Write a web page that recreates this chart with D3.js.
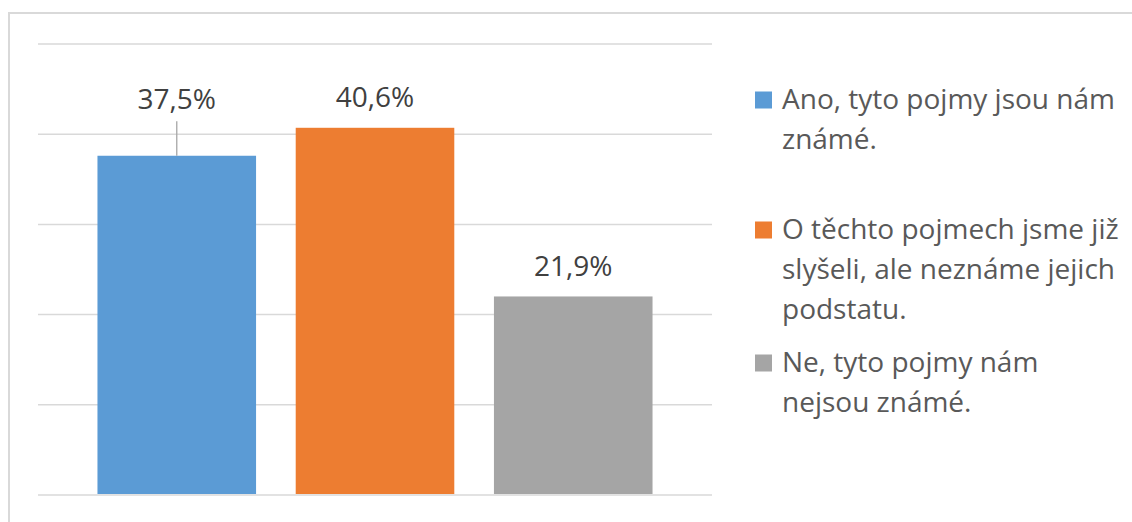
<!DOCTYPE html>
<html>
<head>
<meta charset="utf-8">
<script src="https://cdn.jsdelivr.net/npm/d3@7"></script>
<style>
  html, body { margin: 0; padding: 0; background: #fff; }
  svg { display: block; font-family: "Open Sans", sans-serif; }
</style>
</head>
<body>
<svg id="chart" width="1132" height="522"></svg>
<script>
// ---- data ----
const seriesNames = [
  "Ano, tyto pojmy jsou nám známé.",
  "O těchto pojmech jsme již slyšeli, ale neznáme jejich podstatu.",
  "Ne, tyto pojmy nám nejsou známé."
];
const seriesValues = [37.5, 40.6, 21.9];
const seriesColors = ["#5b9bd5", "#ed7d31", "#a5a5a5"];
const legendLines = [
  ["Ano, tyto pojmy jsou nám", "známé."],
  ["O těchto pojmech jsme již", "slyšeli, ale neznáme jejich", "podstatu."],
  ["Ne, tyto pojmy nám", "nejsou známé."]
];
const yTicks = [0, 10, 20, 30, 40, 50];

// ---- layout ----
const W = 1132, H = 522;
const plot = { left: 38, right: 712, top: 43, bottom: 494 };
const legendX = 755, legendTextX = 782, legendLineH = 40;
const legendFirstBaseline = [109, 239, 372];
const fmt = v => d3.format(".1f")(v).replace(".", ",") + "%";

const svg = d3.select("#chart");

// outer border
svg.append("rect")
  .attr("x", 9).attr("y", 13)
  .attr("width", W + 20).attr("height", H + 20)
  .attr("fill", "none").attr("stroke", "#d9d9d9").attr("stroke-width", 2);

const x = d3.scaleBand()
  .domain(seriesNames)
  .range([plot.left, plot.right])
  .paddingInner(0.2)
  .paddingOuter(0.3);

const y = d3.scaleLinear()
  .domain([0, 50])
  .range([plot.bottom, plot.top]);

// gridlines
const grid = svg.append("g")
  .attr("transform", `translate(${plot.left},0.5)`)
  .call(d3.axisLeft(y).tickValues(yTicks).tickSize(-(plot.right - plot.left)).tickFormat(""));
grid.select(".domain").remove();
grid.selectAll(".tick line").attr("stroke", "#d9d9d9").attr("stroke-width", 1.5);

// bars
svg.append("g").selectAll("rect")
  .data(seriesValues)
  .join("rect")
  .attr("x", (d, i) => x(seriesNames[i]))
  .attr("width", x.bandwidth())
  .attr("y", d => y(d))
  .attr("height", d => y(0) - y(d))
  .attr("fill", (d, i) => seriesColors[i]);

// data labels (first one moved up with a leader line)
const labelOffset = [46.5, 20.5, 20];
svg.append("g").selectAll("line")
  .data(seriesValues.filter((d, i) => i === 0))
  .join("line")
  .attr("x1", x(seriesNames[0]) + x.bandwidth() / 2)
  .attr("x2", x(seriesNames[0]) + x.bandwidth() / 2)
  .attr("y1", d => y(d))
  .attr("y2", d => y(d) - labelOffset[0] + 12)
  .attr("stroke", "#a6a6a6").attr("stroke-width", 1.3);

svg.append("g").selectAll("text")
  .data(seriesValues)
  .join("text")
  .attr("x", (d, i) => x(seriesNames[i]) + x.bandwidth() / 2)
  .attr("y", (d, i) => y(d) - labelOffset[i])
  .attr("text-anchor", "middle")
  .attr("font-size", 28)
  .attr("fill", "#404040")
  .text(d => fmt(d));

// legend
const leg = svg.append("g");
legendLines.forEach((lines, i) => {
  const b = legendFirstBaseline[i];
  leg.append("rect")
    .attr("x", legendX).attr("y", b - 17.5)
    .attr("width", 17).attr("height", 17)
    .attr("fill", seriesColors[i]);
  const t = leg.append("text")
    .attr("x", legendTextX).attr("y", b)
    .attr("font-size", 28).attr("fill", "#595959");
  lines.forEach((ln, j) => {
    t.append("tspan").attr("x", legendTextX).attr("y", b + j * legendLineH).text(ln);
  });
});
</script>
</body>
</html>
